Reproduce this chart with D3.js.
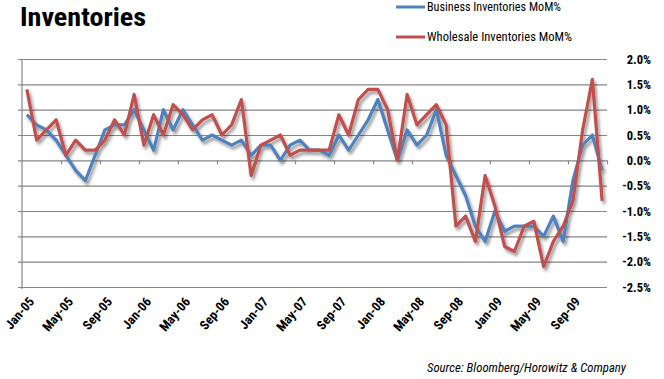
<!DOCTYPE html>
<html>
<head>
<meta charset="utf-8">
<script src="https://cdn.jsdelivr.net/npm/d3@7/dist/d3.min.js"></script>
<style>
	html, body { margin: 0; padding: 0; background: #fff; }
	svg { display: block; }
	text { font-family: "Liberation Sans Narrow", "Roboto Condensed", "Open Sans", sans-serif; }
</style>
</head>
<body>
<div id="chart"></div>
<script>

// monthly categories, Jan-05 .. Dec-09
const months = [
	'Jan-05', 'Feb-05', 'Mar-05', 'Apr-05', 'May-05', 'Jun-05', 'Jul-05', 'Aug-05', 'Sep-05', 'Oct-05', 'Nov-05', 'Dec-05',
	'Jan-06', 'Feb-06', 'Mar-06', 'Apr-06', 'May-06', 'Jun-06', 'Jul-06', 'Aug-06', 'Sep-06', 'Oct-06', 'Nov-06', 'Dec-06',
	'Jan-07', 'Feb-07', 'Mar-07', 'Apr-07', 'May-07', 'Jun-07', 'Jul-07', 'Aug-07', 'Sep-07', 'Oct-07', 'Nov-07', 'Dec-07',
	'Jan-08', 'Feb-08', 'Mar-08', 'Apr-08', 'May-08', 'Jun-08', 'Jul-08', 'Aug-08', 'Sep-08', 'Oct-08', 'Nov-08', 'Dec-08',
	'Jan-09', 'Feb-09', 'Mar-09', 'Apr-09', 'May-09', 'Jun-09', 'Jul-09', 'Aug-09', 'Sep-09', 'Oct-09', 'Nov-09', 'Dec-09',
];

const business = [
	0.9, 0.7, 0.6, 0.4, 0.1, -0.2, -0.4, 0.1, 0.6, 0.7, 0.7, 1.0,
	0.6, 0.2, 1.0, 0.6, 1.0, 0.7, 0.4, 0.5, 0.4, 0.3, 0.4, 0.1,
	0.3, 0.3, 0.0, 0.3, 0.4, 0.2, 0.2, 0.1, 0.5, 0.2, 0.5, 0.8,
	1.2, 0.6, 0.0, 0.6, 0.3, 0.5, 1.0, 0.1, -0.3, -0.7, -1.3, -1.6,
	-1.0, -1.4, -1.3, -1.3, -1.3, -1.5, -1.1, -1.6, -0.4, 0.3, 0.5, -0.2,
];

const wholesale = [
	1.4, 0.4, 0.6, 0.8, 0.1, 0.4, 0.2, 0.2, 0.4, 0.8, 0.5, 1.3,
	0.3, 0.9, 0.5, 1.1, 0.9, 0.6, 0.8, 0.9, 0.5, 0.7, 1.2, -0.3,
	0.3, 0.4, 0.5, 0.1, 0.2, 0.2, 0.2, 0.2, 0.9, 0.5, 1.2, 1.4,
	1.4, 1.0, 0.0, 1.3, 0.7, 0.9, 1.1, 0.7, -1.3, -1.1, -1.6, -0.3,
	-0.9, -1.7, -1.8, -1.3, -1.2, -2.1, -1.6, -1.3, -0.8, 0.6, 1.6, -0.8,
];

const yTicks = [2.0, 1.5, 1.0, 0.5, 0.0, -0.5, -1.0, -1.5, -2.0, -2.5];
const labelledMonths = months.filter((m, i) => i % 4 === 0);

const series = [
	{name: 'Business Inventories MoM%', values: business, color: '#4F81BD'},
	{name: 'Wholesale Inventories MoM%', values: wholesale, color: '#C0504D'},
];

const width = 664;
const height = 379;
const plot = {left: 22, right: 607, top: 59, bottom: 287};

const svg = d3.select('#chart')
	.append('svg')
	.attr('width', width)
	.attr('height', height);

const defs = svg.append('defs');
defs.append('filter')
	.attr('id', 'shadow')
	.attr('x', '-10%').attr('y', '-10%')
	.attr('width', '130%').attr('height', '130%')
	.append('feDropShadow')
	.attr('dx', 2)
	.attr('dy', 3)
	.attr('stdDeviation', 1.5)
	.attr('flood-color', '#000')
	.attr('flood-opacity', 0.4);

const x = d3.scaleBand()
	.domain(months)
	.range([plot.left, plot.right])
	.padding(0);

const xIdx = d3.scaleLinear()
	.domain([0, months.length])
	.range([plot.left, plot.right]);

const y = d3.scaleLinear()
	.domain([-2.5, 2.0])
	.range([plot.bottom, plot.top]);

// gridlines (with short outside ticks on the left)
svg.append('g')
	.attr('transform', `translate(18,0)`)
	.call(d3.axisLeft(y).tickValues(yTicks).tickSize(-(plot.right - 18)).tickFormat(''))
	.call(g => g.select('.domain').remove())
	.call(g => g.selectAll('.tick line').attr('stroke', '#868686').attr('stroke-width', 1.2));

// vertical axis line
svg.append('line')
	.attr('x1', plot.left).attr('x2', plot.left)
	.attr('y1', plot.top).attr('y2', plot.bottom + 2)
	.attr('stroke', '#868686')
	.attr('stroke-width', 1.2);

// category axis on the zero line
svg.append('g')
	.attr('transform', `translate(0,${y(0)})`)
	.call(d3.axisBottom(xIdx).tickValues(d3.range(4, months.length + 1, 4)).tickSize(4).tickFormat(''))
	.call(g => g.select('.domain').remove())
	.call(g => g.selectAll('.tick line').attr('stroke', '#868686').attr('stroke-width', 1.2));

// value labels on the right
svg.append('g')
	.attr('transform', `translate(${plot.right},0)`)
	.call(d3.axisRight(y).tickValues(yTicks).tickSize(0).tickPadding(44).tickFormat(d => d.toFixed(1) + '%'))
	.call(g => g.select('.domain').remove())
	.call(g => g.selectAll('text')
		.attr('text-anchor', 'end')
		.attr('fill', '#000')
		.attr('font-size', 12.5)
		.attr('font-weight', 'bold')
		.attr('font-family', '"Liberation Sans Narrow", "Open Sans", sans-serif'));

// month labels, rotated
svg.append('g')
	.selectAll('text')
	.data(labelledMonths)
	.join('text')
	.attr('transform', d => `translate(${x(d) + x.bandwidth() / 2 + 8},${plot.bottom + 15}) rotate(-50)`)
	.attr('text-anchor', 'end')
	.attr('font-size', 13)
	.attr('font-weight', 'bold')
	.text(d => d);

// series lines
const line = d3.line()
	.x((d, i) => x(months[i]) + x.bandwidth() / 2)
	.y(d => y(d));

svg.append('g')
	.attr('filter', 'url(#shadow)')
	.selectAll('path')
	.data(series)
	.join('path')
	.attr('d', d => line(d.values))
	.attr('fill', 'none')
	.attr('stroke', d => d.color)
	.attr('stroke-width', 3.2)
	.attr('stroke-linejoin', 'round');

// title
svg.append('text')
	.attr('x', 20)
	.attr('y', 26)
	.attr('font-size', 25)
	.attr('font-weight', 'bold')
	.attr('textLength', 126)
	.attr('lengthAdjust', 'spacingAndGlyphs')
	.text('Inventories');

// legend
const legend = svg.append('g')
	.selectAll('g')
	.data(series)
	.join('g')
	.attr('transform', (d, i) => `translate(396,${7 + i * 30})`);

legend.append('line')
	.attr('x1', 0).attr('x2', 29)
	.attr('stroke', d => d.color)
	.attr('stroke-width', 3);

legend.append('text')
	.attr('x', 31)
	.attr('y', 4)
	.attr('font-size', 12)
	.attr('textLength', (d, i) => i === 0 ? 134 : 145)
	.attr('lengthAdjust', 'spacingAndGlyphs')
	.text(d => d.name);

// source note
svg.append('text')
	.attr('x', 427)
	.attr('y', 372)
	.attr('font-size', 12.5)
	.attr('font-style', 'italic')
	.attr('textLength', 199)
	.attr('lengthAdjust', 'spacingAndGlyphs')
	.text('Source: Bloomberg/Horowitz & Company');

</script>
</body>
</html>
